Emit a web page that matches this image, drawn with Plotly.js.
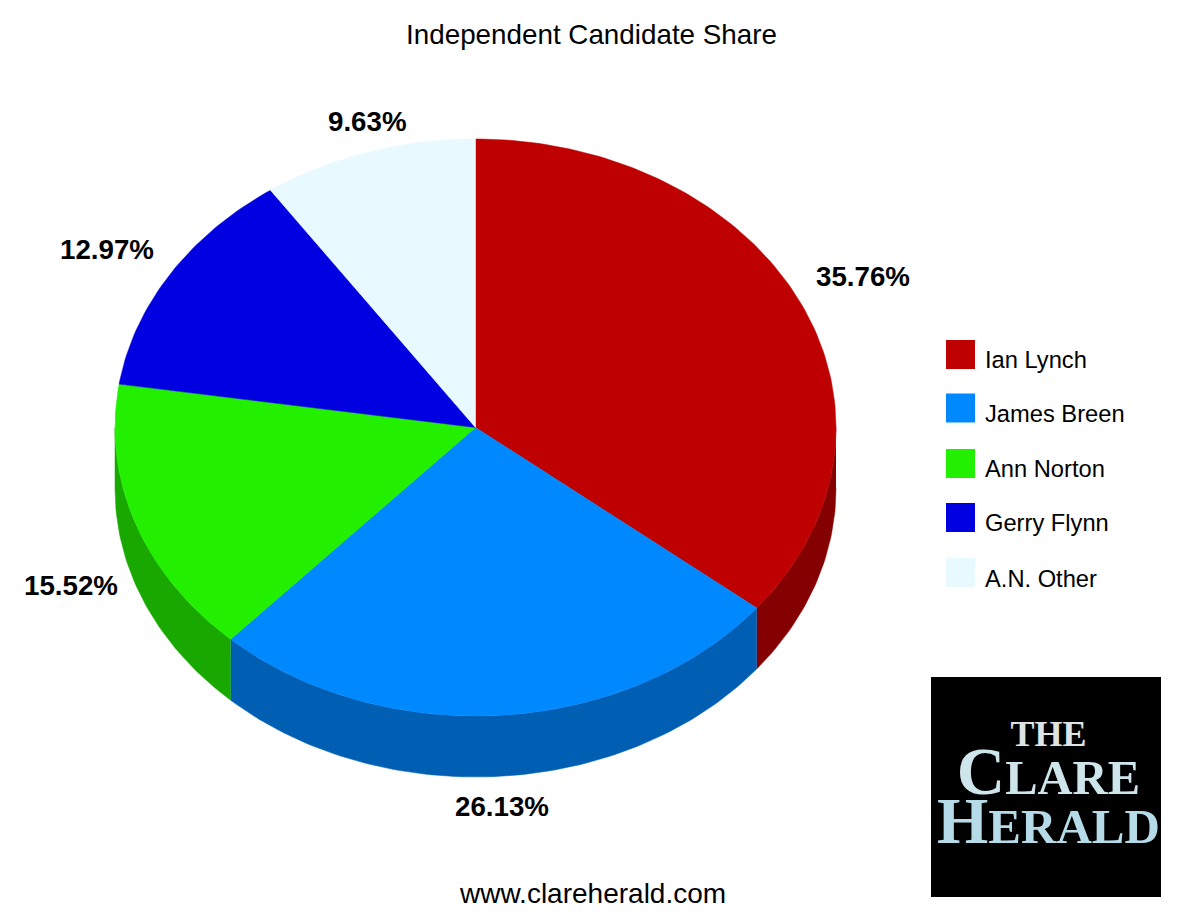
<!DOCTYPE html>
<html>
<head>
<meta charset="utf-8">
<script src="https://cdn.plot.ly/plotly-3.0.1.min.js"></script>
<style>html,body{margin:0;padding:0;background:#fff;overflow:hidden}#chart{width:1183px;height:915px}</style>
</head>
<body>
<div id="chart"></div>
<script>
const candidates = ["Ian Lynch", "James Breen", "Ann Norton", "Gerry Flynn", "A.N. Other"];
const shares = [35.76, 26.13, 15.52, 12.97, 9.63];
const topColors = ["#BF0000", "#0088FF", "#22F000", "#0000E0", "#E8F9FF"];
const sideColors = ["#850000", "#005FB2", "#18A800", "#00009C", "#A0ADB2"];
const labelX = [863, 502, 71, 107, 367];
const labelY = [276.3, 806.3, 585.3, 249.3, 121.3];
const legendY = [354.5, 408, 463.5, 517.5, 572.5];
const legendTextY = [360.3, 413.8, 469.3, 523.3, 579.3];

const CX = 475.5, CY = 427.5, RX = 360.5, RY = 288.5, DEPTH = 61;
const SANS = '"Liberation Sans", Arial, sans-serif';
const SERIF = '"Liberation Serif", "Times New Roman", serif';

function pt(deg, dy) {
  const a = deg * Math.PI / 180;
  return [CX + RX * Math.sin(a), CY - RY * Math.cos(a) + dy];
}
function arc(a0, a1, dy) {
  const out = [], n = Math.max(2, Math.ceil(Math.abs(a1 - a0)));
  for (let i = 0; i <= n; i++) out.push(pt(a0 + (a1 - a0) * i / n, dy));
  return out;
}
function poly(points, color) {
  return {
    type: "scatter", mode: "lines", fill: "toself", fillcolor: color,
    x: points.map(p => p[0]), y: points.map(p => p[1]),
    line: {color: color, width: 0.5}, hoverinfo: "skip", showlegend: false
  };
}

const total = shares.reduce((a, b) => a + b, 0);
const sides = [], tops = [];
let start = 0;
shares.forEach((v, i) => {
  const end = start + v / total * 360;
  const a0 = Math.max(start, 90), a1 = Math.min(end, 270);
  if (a1 > a0) sides.push(poly(arc(a0, a1, 0).concat(arc(a1, a0, DEPTH)), sideColors[i]));
  tops.push(poly([[CX, CY]].concat(arc(start, end, 0), [[CX, CY]]), topColors[i]));
  start = end;
});

const swatches = {
  type: "scatter", mode: "markers", x: candidates.map(() => 960.5), y: legendY,
  marker: {symbol: "square", size: 29, color: topColors, line: {width: 0}},
  hoverinfo: "skip", showlegend: false
};

function note(x, y, text, size, color, family, anchor) {
  return {x, y, xref: "x", yref: "y", text, showarrow: false, xanchor: anchor || "center", yanchor: "middle",
    font: {size, color: color || "#000", family: family || SANS}, borderpad: 0};
}

const annotations = [];
shares.forEach((v, i) => annotations.push(note(labelX[i], labelY[i], "<b>" + v.toFixed(2) + "%</b>", 27.7)));
candidates.forEach((c, i) => annotations.push(note(983.5, legendTextY[i], c, 23.7, "#000", SANS, "left")));
annotations.push(note(592, 893.5, "www.clareherald.com", 28));

const logoText =
  '<b><span style="font-size:36px;color:#dfe3e3">THE</span><br>' +
  '<span style="color:#cfe5ec"><span style="font-size:67px">C</span><span style="font-size:48.5px">LARE</span></span><br>' +
  '<span style="color:#b6dbe8"><span style="font-size:66px">H</span><span style="font-size:49px">ERALD</span></span></b>';
annotations.push(note(1048, 785.5, logoText, 37.3, "#cfe5ec", SERIF));

const layout = {
  width: 1183, height: 915, margin: {l: 0, r: 0, t: 0, b: 0},
  paper_bgcolor: "#fff", plot_bgcolor: "#fff", showlegend: false,
  title: {text: "Independent Candidate Share", x: 591.5 / 1183, xanchor: "center", y: 1 - 34 / 915, yanchor: "middle",
          font: {size: 27.8, color: "#000", family: SANS}},
  xaxis: {range: [0, 1183], visible: false, fixedrange: true},
  yaxis: {range: [915, 0], visible: false, fixedrange: true},
  shapes: [{type: "rect", xref: "x", yref: "y", x0: 931, x1: 1161, y0: 677, y1: 897, fillcolor: "#000", line: {width: 0}, layer: "below"}],
  annotations
};
Plotly.newPlot("chart", sides.concat(tops, [swatches]), layout, {displayModeBar: false, staticPlot: true});
</script>
</body>
</html>
